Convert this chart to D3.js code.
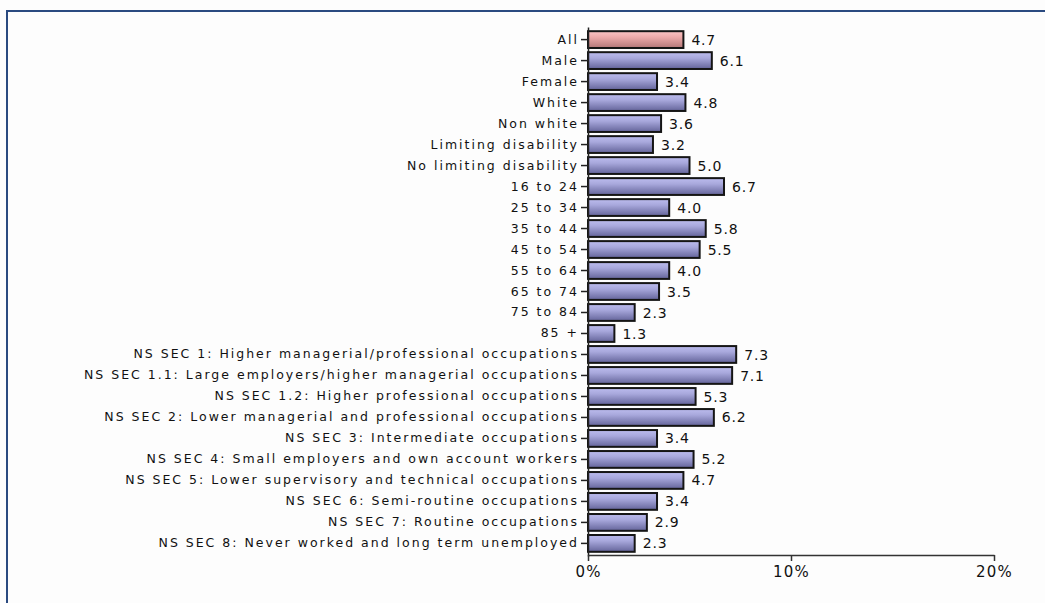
<!DOCTYPE html>
<html>
<head>
<meta charset="utf-8">
<script src="https://cdn.jsdelivr.net/npm/d3@7"></script>
<style>
  body { margin: 0; background: #fdfdfd; }
  svg { display: block; }
  text { font-family: "DejaVu Sans", Verdana, sans-serif; fill: #111; }
</style>
</head>
<body>
<div id="chart"></div>
<script>
// categories and values
var categories = [
  "All", "Male", "Female", "White", "Non white", "Limiting disability",
  "No limiting disability", "16 to 24", "25 to 34", "35 to 44", "45 to 54",
  "55 to 64", "65 to 74", "75 to 84", "85 +",
  "NS SEC 1: Higher managerial/professional occupations",
  "NS SEC 1.1: Large employers/higher managerial occupations",
  "NS SEC 1.2: Higher professional occupations",
  "NS SEC 2: Lower managerial and professional occupations",
  "NS SEC 3: Intermediate occupations",
  "NS SEC 4: Small employers and own account workers",
  "NS SEC 5: Lower supervisory and technical occupations",
  "NS SEC 6: Semi-routine occupations",
  "NS SEC 7: Routine occupations",
  "NS SEC 8: Never worked and long term unemployed"
];
var values = [4.7, 6.1, 3.4, 4.8, 3.6, 3.2, 5.0, 6.7, 4.0, 5.8, 5.5, 4.0, 3.5, 2.3, 1.3,
  7.3, 7.1, 5.3, 6.2, 3.4, 5.2, 4.7, 3.4, 2.9, 2.3];
var xTicks = [0, 10, 20];

var svgWidth = 1045;
var svgHeight = 603;

var svg = d3.select("#chart")
  .append("svg")
  .attr("width", svgWidth)
  .attr("height", svgHeight);

// gradients for the bars
var defs = svg.append("defs");
function addGrad(id, top, mid, bottom) {
  var g = defs.append("linearGradient")
    .attr("id", id)
    .attr("x1", 0).attr("y1", 0).attr("x2", 0).attr("y2", 1);
  g.append("stop").attr("offset", "0%").attr("stop-color", top);
  g.append("stop").attr("offset", "35%").attr("stop-color", mid);
  g.append("stop").attr("offset", "100%").attr("stop-color", bottom);
}
addGrad("gradBlue", "#bcbcee", "#a8a8dc", "#64649a");
addGrad("gradPink", "#fac4c4", "#eeaaaa", "#b47878");

// frame (top and left only)
svg.append("line")
  .attr("x1", 6).attr("x2", svgWidth).attr("y1", 11).attr("y2", 11)
  .attr("stroke", "#2a4a80").attr("stroke-width", 2);
svg.append("line")
  .attr("x1", 7).attr("x2", 7).attr("y1", 10).attr("y2", svgHeight)
  .attr("stroke", "#2a4a80").attr("stroke-width", 2);

var xScale = d3.scaleLinear()
  .domain([0, 20])
  .range([588, 994]);

var yScale = d3.scaleBand()
  .domain(categories)
  .range([27, 556])
  .padding(0.2);

// bars
svg.selectAll(".bar")
  .data(categories)
  .enter()
  .append("rect")
  .attr("class", "bar")
  .attr("x", xScale(0))
  .attr("y", d => yScale(d))
  .attr("width", (d, i) => xScale(values[i]) - xScale(0))
  .attr("height", yScale.bandwidth())
  .attr("fill", (d, i) => i === 0 ? "url(#gradPink)" : "url(#gradBlue)")
  .attr("stroke", "#151515")
  .attr("stroke-width", 2);

// value labels
svg.selectAll(".val")
  .data(categories)
  .enter()
  .append("text")
  .attr("class", "val")
  .attr("x", (d, i) => xScale(values[i]) + 8)
  .attr("y", d => yScale(d) + yScale.bandwidth() / 2)
  .attr("dy", "0.36em")
  .attr("font-size", "14px")
  .attr("letter-spacing", "0.8px")
  .text((d, i) => values[i].toFixed(1));

// y axis
var leftAxis = d3.axisLeft(yScale).tickSize(7).tickSizeOuter(0).tickPadding(2);
var yAxis = svg.append("g")
  .attr("transform", `translate(${xScale(0)}, 0)`)
  .call(leftAxis);
yAxis.select(".domain").attr("stroke", "#222").attr("stroke-width", 1.5);
yAxis.selectAll(".tick line").attr("stroke", "#222").attr("stroke-width", 1.5);
yAxis.selectAll(".tick text")
  .attr("font-size", "12.5px")
  .attr("letter-spacing", "2px")
  .attr("fill", "#111")
  .attr("font-family", "DejaVu Sans, sans-serif");

// x axis
var bottomAxis = d3.axisBottom(xScale)
  .tickValues(xTicks)
  .tickSize(6)
  .tickSizeOuter(0)
  .tickPadding(5)
  .tickFormat(d => d + "%");
var xAxis = svg.append("g")
  .attr("transform", `translate(0, 555)`)
  .call(bottomAxis);
xAxis.select(".domain").attr("stroke", "#333").attr("stroke-width", 1.5);
xAxis.selectAll(".tick line").attr("stroke", "#333").attr("stroke-width", 1.5);
xAxis.selectAll(".tick text")
  .attr("font-size", "15px")
  .attr("letter-spacing", "1.2px")
  .attr("fill", "#222")
  .attr("font-family", "DejaVu Sans, sans-serif");
</script>
</body>
</html>
